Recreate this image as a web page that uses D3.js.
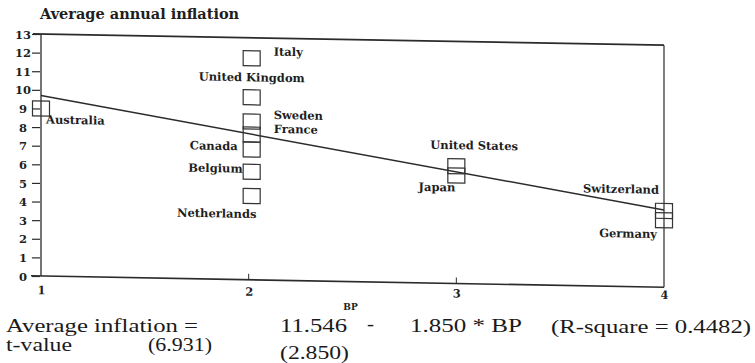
<!DOCTYPE html>
<html>
<head>
<meta charset="utf-8">
<script src="https://cdn.jsdelivr.net/npm/d3@7"></script>
<style>
  html, body { margin: 0; padding: 0; background: #fff; }
  svg { display: block; }
  .lbl { font-family: "DejaVu Serif", serif; font-weight: bold; font-size: 11.5px; fill: #1e1e1e; }
  .tick text { font-family: "DejaVu Serif", serif; font-weight: bold; font-size: 11.5px; fill: #1e1e1e; }
  .eq { font-family: "Liberation Serif", "Times New Roman", serif; font-size: 18.5px; fill: #1a1a1a; }
</style>
</head>
<body>
<script>
// Average annual inflation against the BP index, with fitted OLS line
const countries = ["Australia", "Italy", "United Kingdom", "Sweden", "France", "Canada",
                   "Belgium", "Netherlands", "United States", "Japan", "Switzerland", "Germany"];
const bpIndex   = [1, 2, 2, 2, 2, 2, 2, 2, 3, 3, 4, 4];
const inflation = [9.0, 11.9, 9.8, 8.5, 7.8, 7.0, 5.8, 4.5, 6.3, 5.8, 4.1, 3.6];

const yTicks = [0, 1, 2, 3, 4, 5, 6, 7, 8, 9, 10, 11, 12, 13];
const xTicks = [1, 2, 3, 4];

// fitted regression: inflation = a - b * BP
const intercept = 11.546;
const slope = -1.850;
const eqRow1 = ["Average inflation =", "11.546", "-", "1.850 * BP", "(R-square = 0.4482)"];
const eqRow2 = ["t-value", "(6.931)", "(2.850)"];

const W = 755, H = 363;
const svg = d3.select("body").append("svg").attr("width", W).attr("height", H);

const x = d3.scaleLinear().domain([1, 4]).range([41, 664]);
const y = d3.scaleLinear().domain([0, 13]).range([276, 34]);

const ink = "#2b2b2b";

// the printed plot is slightly sheared: horizontals fall towards the right
const k = 0.018;
const plot = svg.append("g")
  .attr("transform", `matrix(1,${k},0,1,0,${-k * x(1)})`);

// frame
const x0 = x(1), x1 = x(4);
plot.append("line").attr("x1", x0 - 8).attr("x2", x1).attr("y1", y(13)).attr("y2", y(13))
  .attr("stroke", ink).attr("stroke-width", 1.8);
plot.append("line").attr("x1", x0 - 10).attr("x2", x1).attr("y1", y(0)).attr("y2", y(0))
  .attr("stroke", ink).attr("stroke-width", 1.6);
plot.append("line").attr("x1", x1).attr("x2", x1).attr("y1", y(13)).attr("y2", y(0))
  .attr("stroke", ink).attr("stroke-width", 1.2);
plot.append("line").attr("x1", x0).attr("x2", x0).attr("y1", y(13)).attr("y2", y(0))
  .attr("stroke", ink).attr("stroke-width", 1.3);

// inner ticks on the BP axis
plot.selectAll("line.xt").data([2, 3]).join("line").attr("class", "xt")
  .attr("x1", d => x(d)).attr("x2", d => x(d))
  .attr("y1", y(0)).attr("y2", y(0) - 6)
  .attr("stroke", ink).attr("stroke-width", 1);

// y axis
const yAxis = svg.append("g")
  .attr("transform", `translate(${x0 - 1},0)`)
  .call(d3.axisLeft(y).tickValues(yTicks).tickSize(8).tickFormat(d3.format("d")));
yAxis.select(".domain").remove();
yAxis.selectAll(".tick line").attr("stroke", ink).attr("stroke-width", 1.2);
yAxis.selectAll(".tick text").attr("text-anchor", "middle").attr("x", -17).attr("dy", "0.36em");

// x axis labels (sheared a little less than the frame)
const k2 = 0.008;
const xAxis = svg.append("g")
  .attr("transform", `matrix(1,${k2},0,1,0,${y(0) - k2 * x0})`)
  .call(d3.axisBottom(x).tickValues(xTicks).tickSize(0).tickPadding(10).tickFormat(d3.format("d")));
xAxis.select(".domain").remove();

svg.append("text").attr("class", "lbl")
  .attr("x", (x(2) + x(3)) / 2 - 2).attr("y", 310)
  .style("font-size", "9px")
  .attr("text-anchor", "middle")
  .text("BP");

// title
svg.append("text").attr("class", "lbl")
  .attr("x", 40).attr("y", 19)
  .style("font-size", "14.5px")
  .text("Average annual inflation");

// regression line
const fit = v => intercept + slope * v;
plot.append("line")
  .attr("x1", x(1)).attr("y1", y(fit(1)))
  .attr("x2", x(4)).attr("y2", y(fit(4)))
  .attr("stroke", ink).attr("stroke-width", 1.5);

// data points as open squares
const pts = countries.map((c, i) => ({ name: c, bp: bpIndex[i], v: inflation[i] }));
const bw = 17, bh = 15;
plot.selectAll("rect.pt").data(pts).join("rect").attr("class", "pt")
  .attr("x", d => x(d.bp) - bw / 2 + (d.bp === 2 ? 3 : 0))
  .attr("y", d => y(d.v) - bh / 2)
  .attr("width", bw).attr("height", bh)
  .attr("fill", "none").attr("stroke", "#333").attr("stroke-width", 1.2);

// label placement relative to each square
const place = {
  "Australia":      { dx: 5,   dy: 15,  a: "start" },
  "Italy":          { dx: 25,  dy: -3,  a: "start" },
  "United Kingdom": { dx: -50, dy: -16, a: "start" },
  "Sweden":         { dx: 25,  dy: -3,  a: "start" },
  "France":         { dx: 25,  dy: -2,  a: "start" },
  "Canada":         { dx: -11, dy: 1,   a: "end" },
  "Belgium":        { dx: -6,  dy: 1,   a: "end" },
  "Netherlands":    { dx: -32, dy: 22,  a: "middle" },
  "United States":  { dx: -26, dy: -17, a: "start" },
  "Japan":          { dx: -1,  dy: 16,  a: "end" },
  "Switzerland":    { dx: -5,  dy: -17, a: "end" },
  "Germany":        { dx: -7,  dy: 18,  a: "end" }
};
plot.selectAll("text.pl").data(pts).join("text").attr("class", "lbl pl")
  .attr("x", d => x(d.bp) + place[d.name].dx)
  .attr("y", d => y(d.v) + place[d.name].dy)
  .attr("text-anchor", d => place[d.name].a)
  .text(d => d.name);

// regression equation under the chart
const row1 = [
  { t: eqRow1[0], x: 6,   len: 192, y: 332 },
  { t: eqRow1[1], x: 280, len: 67,  y: 332 },
  { t: eqRow1[2], x: 367, len: 7,   y: 330 },
  { t: eqRow1[3], x: 410, len: 112, y: 332 },
  { t: eqRow1[4], x: 551, len: 200, y: 333 }
];
const row2 = [
  { t: eqRow2[0], x: 6,   len: 66, y: 351 },
  { t: eqRow2[1], x: 148, len: 64, y: 351 },
  { t: eqRow2[2], x: 280, len: 69, y: 359 }
];
svg.selectAll("text.eq").data(row1.concat(row2)).join("text").attr("class", "eq")
  .attr("x", d => d.x).attr("y", d => d.y)
  .attr("textLength", d => d.len).attr("lengthAdjust", "spacingAndGlyphs")
  .text(d => d.t);
</script>
</body>
</html>
